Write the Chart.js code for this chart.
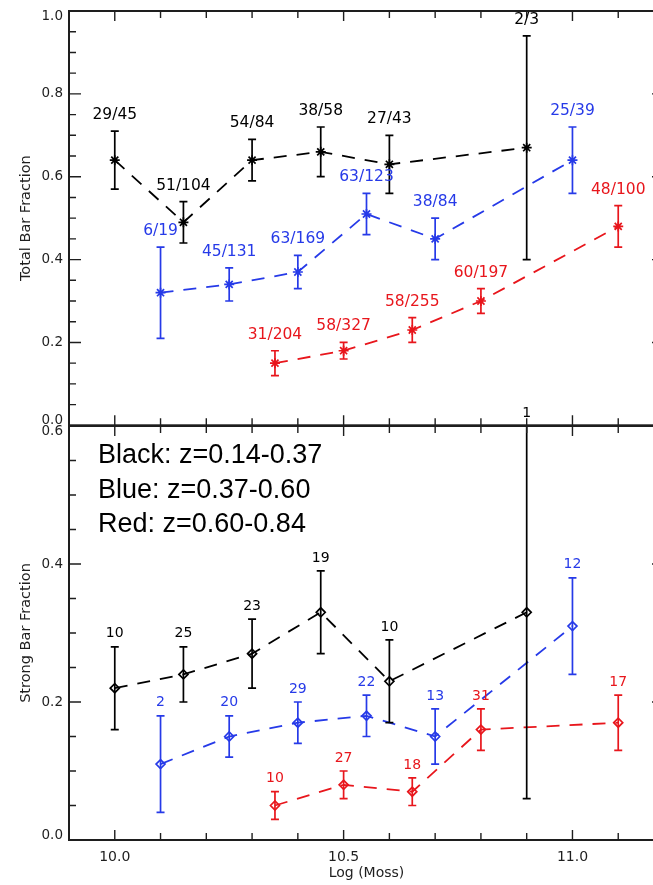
<!DOCTYPE html>
<html>
<head>
<meta charset="utf-8">
<script src="https://cdn.jsdelivr.net/npm/chart.js@4.4.0/dist/chart.umd.min.js"></script>
<style>
  html, body { margin: 0; padding: 0; background: #fff; overflow: hidden; width: 653px; height: 885px; }
  canvas { position: absolute; left: 0; }
  #topPanel { top: 0; }
  #bottomPanel { top: 380px; }
</style>
</head>
<body>
<canvas id="topPanel" width="680" height="432"></canvas>
<canvas id="bottomPanel" width="680" height="505"></canvas>
<script>
// log mass bins per redshift group
const massBlack = [10.0, 10.15, 10.3, 10.45, 10.6, 10.9];
const massBlue  = [10.1, 10.25, 10.4, 10.55, 10.7, 11.0];
const massRed   = [10.35, 10.5, 10.65, 10.8, 11.1];

// total bar fraction
const totalBlack    = [0.64, 0.49, 0.64, 0.66, 0.63, 0.67];
const totalBlackErr = [0.07, 0.05, 0.05, 0.06, 0.07, 0.27];
const totalBlackLbl = ['29/45', '51/104', '54/84', '38/58', '27/43', '2/3'];
const totalBlue     = [0.32, 0.34, 0.37, 0.51, 0.45, 0.64];
const totalBlueErr  = [0.11, 0.04, 0.04, 0.05, 0.05, 0.08];
const totalBlueLbl  = ['6/19', '45/131', '63/169', '63/123', '38/84', '25/39'];
const totalRed      = [0.15, 0.18, 0.23, 0.30, 0.48];
const totalRedErr   = [0.03, 0.02, 0.03, 0.03, 0.05];
const totalRedLbl   = ['31/204', '58/327', '58/255', '60/197', '48/100'];

// strong bar fraction
const strongBlack    = [0.22, 0.24, 0.27, 0.33, 0.23, 0.33];
const strongBlackErr = [0.06, 0.04, 0.05, 0.06, 0.06, 0.27];
const strongBlackLbl = ['10', '25', '23', '19', '10', '1'];
const strongBlue     = [0.11, 0.15, 0.17, 0.18, 0.15, 0.31];
const strongBlueErr  = [0.07, 0.03, 0.03, 0.03, 0.04, 0.07];
const strongBlueLbl  = ['2', '20', '29', '22', '13', '12'];
const strongRed      = [0.05, 0.08, 0.07, 0.16, 0.17];
const strongRedErr   = [0.02, 0.02, 0.02, 0.03, 0.04];
const strongRedLbl   = ['10', '27', '18', '31', '17'];

// axis labels
const xTickLabels      = ['10.0', '10.5', '11.0'];
const totalTickLabels  = ['0.0', '0.2', '0.4', '0.6', '0.8', '1.0'];
const strongTickLabels = ['0.0', '0.2', '0.4', '0.6'];
const legendLines      = ['Black: z=0.14-0.37', 'Blue: z=0.37-0.60', 'Red: z=0.60-0.84'];

const BLACK = '#000000';
const BLUE  = 'rgb(38,58,232)';
const RED   = 'rgb(232,22,28)';

function series(xs, ys, errs, lbls, color, style, radius) {
  return {
    data: xs.map((m, i) => ({ x: m, y: ys[i] })),
    errors: errs,
    pointLabels: lbls,
    borderColor: color,
    backgroundColor: color,
    pointStyle: style,
    pointRadius: radius,
    pointBorderWidth: 1.7,
    pointBackgroundColor: style === 'rectRot' ? 'rgba(0,0,0,0)' : color,
    showLine: true,
    borderWidth: 1.8,
    borderDash: [13, 10]
  };
}

// error bars + count labels drawn from each dataset's values
function errorBars(labelFont, labelGap) {
  return {
    id: 'errorBars',
    afterDatasetsDraw(chart) {
      const { ctx, scales: { x, y } } = chart;
      ctx.save();
      chart.data.datasets.forEach(ds => {
        ctx.strokeStyle = ds.borderColor;
        ctx.fillStyle = ds.borderColor;
        ctx.lineWidth = 1.7;
        ctx.setLineDash([]);
        ds.data.forEach((p, i) => {
          const px = x.getPixelForValue(p.x);
          const hi = y.getPixelForValue(p.y + ds.errors[i]);
          const lo = y.getPixelForValue(p.y - ds.errors[i]);
          ctx.beginPath();
          ctx.moveTo(px, hi); ctx.lineTo(px, lo);
          ctx.moveTo(px - 4, hi); ctx.lineTo(px + 4, hi);
          ctx.moveTo(px - 4, lo); ctx.lineTo(px + 4, lo);
          ctx.stroke();
          ctx.font = labelFont;
          ctx.textAlign = 'center';
          ctx.textBaseline = 'middle';
          ctx.fillText(ds.pointLabels[i], px, hi - labelGap);
        });
      });
      ctx.restore();
    }
  };
}

// IDL style box, inward ticks, tick labels and titles
function panelDecor(cfg) {
  return {
    id: 'panelDecor',
    afterDraw(chart) {
      const { ctx, chartArea: a, scales: { x, y } } = chart;
      ctx.save();
      ctx.strokeStyle = '#1e1e1e';
      ctx.lineWidth = 2;
      ctx.strokeRect(a.left, a.top, a.right - a.left, a.bottom - a.top);

      ctx.lineWidth = 1.4;
      ctx.beginPath();
      for (let k = 1; k <= 12; k++) {
        const px = x.getPixelForValue(9.9 + k * 0.1);
        const len = (k % 5 === 1) ? 10 : 7;
        ctx.moveTo(px, a.bottom); ctx.lineTo(px, a.bottom - len);
        ctx.moveTo(px, a.top); ctx.lineTo(px, a.top + len);
      }
      const nY = Math.round(y.max / 0.05);
      for (let k = 1; k < nY; k++) {
        const py = y.getPixelForValue(k * 0.05);
        const len = (k % 4 === 0) ? 12 : 7;
        ctx.moveTo(a.left, py); ctx.lineTo(a.left + len, py);
        ctx.moveTo(a.right, py); ctx.lineTo(a.right - len, py);
      }
      ctx.stroke();

      ctx.fillStyle = '#1e1e1e';
      ctx.font = '13.5px "DejaVu Sans"';
      ctx.textAlign = 'right';
      ctx.textBaseline = 'middle';
      cfg.yLabels.forEach(t => {
        let py = y.getPixelForValue(parseFloat(t));
        py = Math.min(Math.max(py, a.top + 5), a.bottom - 5);
        ctx.fillText(t, a.left - 6, py);
      });

      ctx.save();
      ctx.translate(26, (a.top + a.bottom) / 2);
      ctx.rotate(-Math.PI / 2);
      ctx.textAlign = 'center';
      ctx.font = '14.5px "DejaVu Sans"';
      ctx.fillText(cfg.yTitle, 0, 0);
      ctx.restore();

      if (cfg.xLabels) {
        ctx.textAlign = 'center';
        ctx.font = '14px "DejaVu Sans"';
        cfg.xLabels.forEach(t => ctx.fillText(t, x.getPixelForValue(parseFloat(t)), a.bottom + 17));
        ctx.fillText(cfg.xTitle, (a.left + a.right) / 2, a.bottom + 33);
      }

      if (cfg.legend) {
        ctx.fillStyle = '#000';
        ctx.textAlign = 'left';
        ctx.textBaseline = 'alphabetic';
        ctx.font = '27px "Liberation Sans", Arial, sans-serif';
        cfg.legend.forEach((t, i) => ctx.fillText(t, a.left + 29, a.top + 37 + i * 34.5));
      }
      ctx.restore();
    }
  };
}

function makePanel(id, datasets, yMax, padding, labelFont, labelGap, decor) {
  return new Chart(document.getElementById(id), {
    type: 'scatter',
    data: { datasets: datasets },
    options: {
      responsive: false,
      animation: false,
      devicePixelRatio: 1,
      layout: { padding: padding },
      plugins: { legend: { display: false }, tooltip: { enabled: false } },
      scales: {
        x: { type: 'linear', min: 9.9, max: 11.2, display: false },
        y: { type: 'linear', min: 0, max: yMax, display: false }
      }
    },
    plugins: [errorBars(labelFont, labelGap), panelDecor(decor)]
  });
}

makePanel('topPanel', [
  series(massBlack, totalBlack, totalBlackErr, totalBlackLbl, BLACK, 'star', 5),
  series(massBlue, totalBlue, totalBlueErr, totalBlueLbl, BLUE, 'star', 5),
  series(massRed, totalRed, totalRedErr, totalRedLbl, RED, 'star', 5)
], 1.0, { left: 69, top: 11, right: 16, bottom: 6 }, '15.5px "DejaVu Sans"', 16,
  { yLabels: totalTickLabels, yTitle: 'Total Bar Fraction' });

makePanel('bottomPanel', [
  series(massBlack, strongBlack, strongBlackErr, strongBlackLbl, BLACK, 'rectRot', 4.5),
  series(massBlue, strongBlue, strongBlueErr, strongBlueLbl, BLUE, 'rectRot', 4.5),
  series(massRed, strongRed, strongRedErr, strongRedLbl, RED, 'rectRot', 4.5)
], 0.6, { left: 69, top: 46, right: 16, bottom: 45 }, '14px "DejaVu Sans"', 13,
  { yLabels: strongTickLabels, yTitle: 'Strong Bar Fraction', xLabels: xTickLabels,
    xTitle: 'Log (Moss)', legend: legendLines });
</script>
</body>
</html>
